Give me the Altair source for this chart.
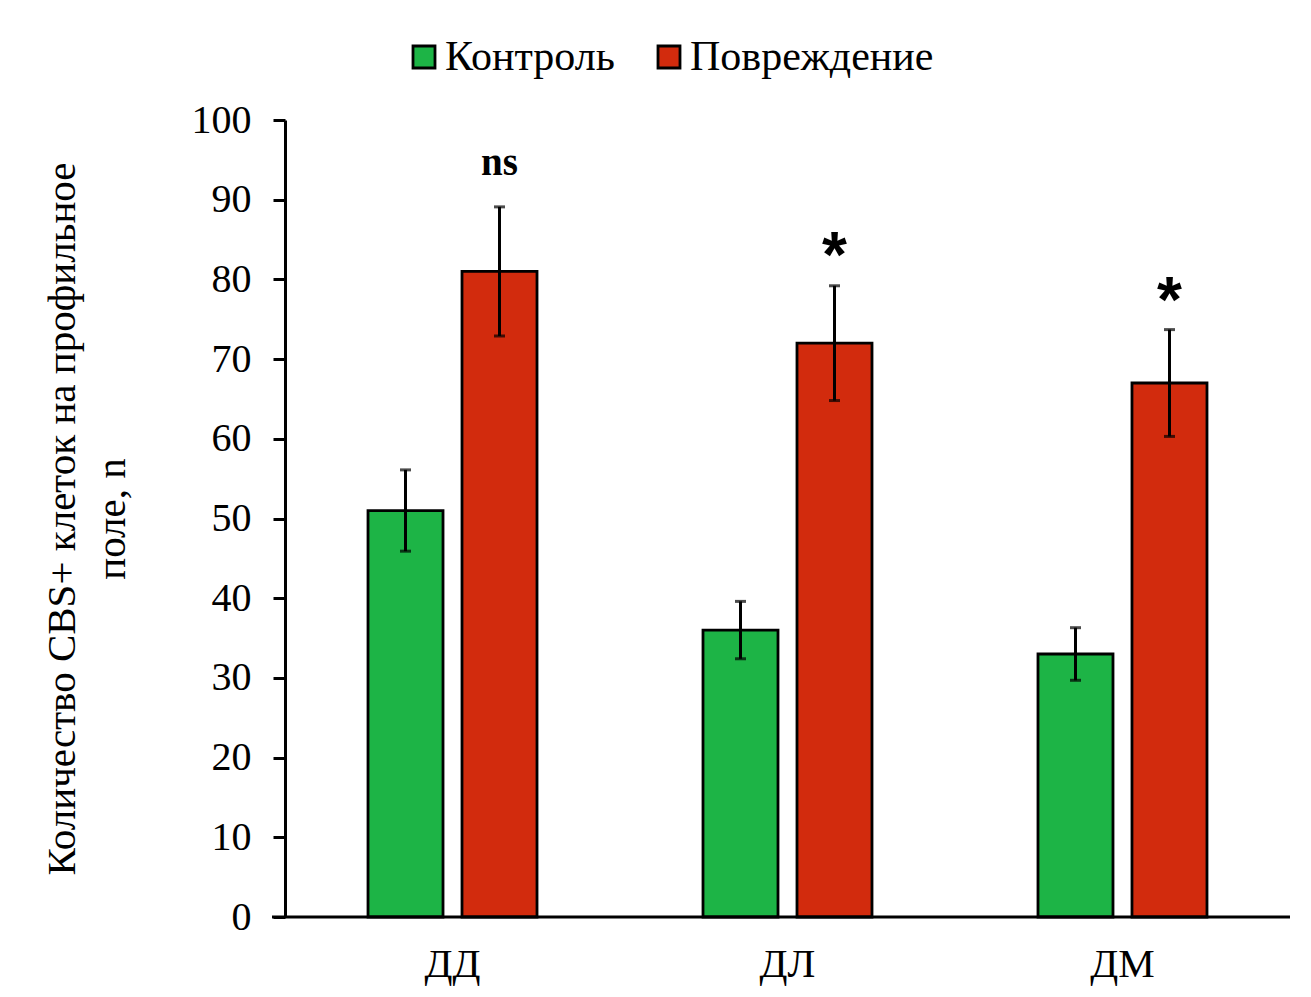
import altair as alt
import pandas as pd

groups = ["ДД", "ДЛ", "ДМ"]
series = ["Контроль", "Повреждение"]
colors = ["#1db446", "#d22b0d"]
control_vals = [51, 36, 33]
control_err = [5.1, 3.6, 3.3]
injury_vals = [81, 72, 67]
injury_err = [8.1, 7.2, 6.7]
sig_labels = ["ns", "*", "*"]
sig_y = [94.6, 84.3, 78.7]
y_ticks = [0, 10, 20, 30, 40, 50, 60, 70, 80, 90, 100]

rows = []
for i, g in enumerate(groups):
    for s, vals, errs in ((series[0], control_vals, control_err), (series[1], injury_vals, injury_err)):
        rows.append(dict(group=g, series=s, value=vals[i], lo=vals[i] - errs[i], hi=vals[i] + errs[i]))
df = pd.DataFrame(rows)
sig = pd.DataFrame(dict(group=groups, series=[series[1]] * 3, label=sig_labels, y=sig_y))

W, H = 1005, 797
FONT = "Liberation Serif"

xenc = alt.X("group:N", sort=groups, title=None,
             scale=alt.Scale(paddingInner=0.4955, paddingOuter=0.2478),
             axis=alt.Axis(labelFont=FONT, labelFontSize=41, labelColor="black", labelAngle=0,
                           ticks=False, domain=False, labelPadding=27))
xoff = alt.XOffset("series:N", sort=series, scale=alt.Scale(paddingInner=0.202, paddingOuter=0))
yscale = alt.Scale(domain=[0, 100], nice=False)

base = alt.Chart(df)
bars = base.mark_bar(stroke="black", strokeWidth=2.8).encode(
    x=xenc, xOffset=xoff,
    y=alt.Y("value:Q", scale=yscale,
            title=["Количество CBS+ клеток на профильное", "поле, n"],
            axis=alt.Axis(values=y_ticks, grid=False, tickSize=12, tickWidth=3, tickColor="black",
                          domainWidth=3, domainColor="black", labelFont=FONT, labelFontSize=40,
                          labelColor="black", labelPadding=22, titleFont=FONT, titleFontSize=41,
                          titleFontWeight="normal", titleColor="black", titlePadding=58,
                          titleLineHeight=50)),
    color=alt.Color("series:N", sort=series, scale=alt.Scale(domain=series, range=colors),
                    legend=alt.Legend(title=None, orient="none", legendX=118, legendY=-84,
                                      direction="horizontal", symbolType="square", symbolSize=484,
                                      symbolStrokeColor="black", symbolStrokeWidth=2.8,
                                      labelFont=FONT, labelFontSize=42, labelColor="black",
                                      labelOffset=0, columnPadding=33, labelLimit=0)),
)
err = base.mark_rule(color="black", strokeWidth=3).encode(
    x=alt.X("group:N", sort=groups), xOffset=xoff, y=alt.Y("lo:Q", scale=yscale), y2="hi:Q")
cap_hi = base.mark_tick(color="black", thickness=3, size=11, orient="horizontal").encode(
    x=alt.X("group:N", sort=groups), xOffset=xoff, y=alt.Y("hi:Q", scale=yscale))
cap_lo = base.mark_tick(color="black", thickness=3, size=11, orient="horizontal").encode(
    x=alt.X("group:N", sort=groups), xOffset=xoff, y=alt.Y("lo:Q", scale=yscale))

sig_base = alt.Chart(sig)
ns_text = sig_base.transform_filter(alt.datum.label == "ns").mark_text(
    font=FONT, fontSize=39, fontWeight="bold", baseline="middle", color="black").encode(
    x=alt.X("group:N", sort=groups), xOffset=xoff, y=alt.Y("y:Q", scale=yscale), text="label:N")
star_text = sig_base.transform_filter(alt.datum.label == "*").mark_text(
    font="Liberation Sans", fontSize=64, fontWeight="bold", baseline="middle", dy=13, color="black").encode(
    x=alt.X("group:N", sort=groups), xOffset=xoff, y=alt.Y("y:Q", scale=yscale), text="label:N")

xline = alt.Chart(pd.DataFrame({"v": [0]})).mark_rule(color="black", strokeWidth=3).encode(
    y=alt.Y("v:Q", scale=yscale), x=alt.value(-13), x2=alt.value(W))

chart = alt.layer(bars, err, cap_hi, cap_lo, ns_text, star_text, xline).properties(
    width=W, height=H,
    autosize=alt.AutoSizeParams(type="none"),
    padding={"left": 277, "top": 112, "right": 13, "bottom": 72},
).configure(background="white").configure_view(stroke=None)

chart.save("out.html", embed_options={"renderer": "svg", "actions": False})
